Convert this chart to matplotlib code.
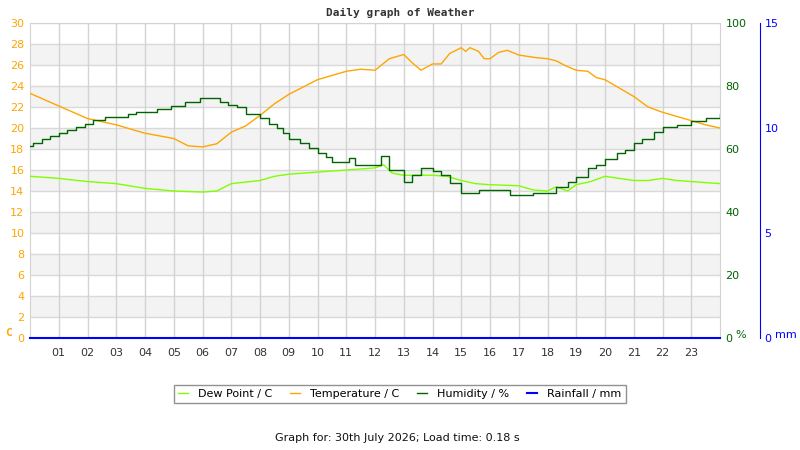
import matplotlib
matplotlib.use("Agg")
import matplotlib.pyplot as plt

# temperature (C)
temp_h = [0, 1, 2, 3, 4, 5, 5.5, 6, 6.5, 7, 7.5, 8, 8.5, 9, 10, 11, 11.5, 12, 12.5, 13,
          13.3, 13.6, 14, 14.3, 14.6, 15, 15.15, 15.3, 15.6, 15.8, 16, 16.3, 16.6, 17,
          17.6, 18, 18.3, 18.65, 19, 19.4, 19.7, 20, 20.5, 21, 21.5, 22, 22.5, 23, 23.5, 24]
temp_c = [23.3, 22.1, 20.9, 20.3, 19.5, 19.0, 18.3, 18.2, 18.5, 19.6, 20.2, 21.2, 22.3, 23.2,
          24.6, 25.4, 25.6, 25.5, 26.6, 27.0, 26.2, 25.5, 26.1, 26.1, 27.1, 27.65, 27.3, 27.65,
          27.3, 26.6, 26.6, 27.2, 27.4, 26.95, 26.7, 26.6, 26.4, 25.9, 25.5, 25.4, 24.8, 24.6,
          23.8, 23.0, 22.0, 21.5, 21.1, 20.7, 20.3, 20.0]

# dew point (C)
dew_h = [0, 1, 2, 3, 4, 5, 6, 6.5, 7, 8, 8.5, 9, 10, 11, 12, 12.3, 12.6, 13, 14, 14.5, 15,
         15.5, 16, 17, 17.5, 18, 18.3, 18.7, 19, 19.5, 20, 20.5, 21, 21.5, 22, 22.5, 23, 24]
dew_c = [15.4, 15.2, 14.9, 14.7, 14.25, 14.0, 13.9, 14.0, 14.7, 15.0, 15.4, 15.6, 15.8, 16.0,
         16.2, 16.5, 15.7, 15.5, 15.5, 15.4, 15.0, 14.7, 14.6, 14.5, 14.1, 14.0, 14.4, 14.0,
         14.6, 14.9, 15.4, 15.2, 15.0, 15.0, 15.2, 15.0, 14.9, 14.7]

# humidity (%), stepped
hum_h = [0, 0.1, 0.4, 0.7, 1, 1.3, 1.6, 1.9, 2.2, 2.6, 3.4, 3.7, 4.4, 4.9, 5.4, 5.9, 6.6, 6.9,
         7.2, 7.5, 8, 8.3, 8.6, 8.8, 9, 9.4, 9.7, 10, 10.3, 10.5, 11, 11.1, 11.3, 12, 12.2,
         12.5, 13, 13.3, 13.6, 14, 14.3, 14.6, 15, 15.6, 16, 16.7, 17.5, 18.3, 18.7, 19, 19.4,
         19.7, 20, 20.4, 20.7, 21, 21.3, 21.7, 22, 22.5, 23, 23.5, 24]
hum_p = [61.0, 61.8, 63.1, 64.1, 65.0, 66.0, 66.9, 67.9, 69.2, 70.1, 71.1, 71.8, 72.6, 73.7,
         74.8, 76.1, 74.8, 74.0, 73.2, 71.1, 69.7, 67.9, 66.6, 65.2, 63.1, 61.8, 60.2, 58.8,
         57.6, 56.0, 56.0, 57.0, 54.9, 54.9, 57.8, 53.3, 49.6, 51.7, 53.9, 52.9, 51.7, 49.1,
         45.9, 47.0, 47.0, 45.4, 46.1, 47.8, 49.6, 51.0, 53.9, 54.9, 56.7, 58.8, 59.7, 61.8,
         63.1, 65.5, 66.9, 67.6, 69.0, 69.7, 71.1]

# rainfall (mm)
rain_h = [0, 24]
rain_mm = [0, 0]

hour_labels = ["%02d" % h for h in range(1, 24)]

fig = plt.figure(figsize=(8, 4.5), dpi=100)
ax = fig.add_axes([30 / 800, 1 - 338 / 450, 690 / 800, 315 / 450])

# alternating bands and grid
for lo in range(2, 30, 4):
    ax.axhspan(lo, lo + 2, color="#f3f3f3", zorder=0, lw=0)
for y in range(2, 31, 2):
    ax.axhline(y, color="#d9d9d9", lw=1, zorder=1)
for h in range(1, 24):
    ax.axvline(h, color="#d3d3d3", lw=1, zorder=1)

ax.set_xlim(0, 24)
ax.set_ylim(0, 30)
ax.set_yticks(range(0, 31, 2))
ax.tick_params(axis="y", colors="#ffa500", length=0, labelsize=8, pad=4)
ax.set_xticks(range(1, 24))
ax.set_xticklabels(hour_labels)
ax.tick_params(axis="x", colors="#333333", length=0, labelsize=8, pad=7)
for s in ["left", "right", "top"]:
    ax.spines[s].set_color("#d3d3d3")
ax.spines["bottom"].set_visible(False)

l_dew, = ax.plot(dew_h, dew_c, color="#7fff00", lw=1, zorder=3)
l_temp, = ax.plot(temp_h, temp_c, color="#ffa500", lw=1, zorder=3)

ax2 = ax.twinx()
ax2.set_ylim(0, 100)
ax2.set_yticks(range(0, 101, 20))
ax2.tick_params(axis="y", colors="#006400", length=0, labelsize=8, pad=4)
for s in ax2.spines.values():
    s.set_visible(False)
l_hum, = ax2.plot(hum_h, hum_p, color="#006400", lw=1, drawstyle="steps-post", zorder=4)

ax3 = ax.twinx()
ax3.set_ylim(0, 15)
ax3.set_yticks([0, 5, 10, 15])
ax3.spines["right"].set_position(("outward", 29))
ax3.spines["right"].set_color("#0000ff")
for s in ["left", "top", "bottom"]:
    ax3.spines[s].set_visible(False)
ax3.tick_params(axis="y", colors="#0000ff", length=0, labelsize=8, pad=3)
l_rain, = ax3.plot(rain_h, rain_mm, color="#0000ff", lw=1.5, zorder=5, clip_on=False)

fig.text(5 / 800, 1 - 333 / 450, "C", color="#ffa500", fontsize=8, fontweight="bold",
         family="DejaVu Sans Mono", va="center")
fig.text(735 / 800, 1 - 335 / 450, "%", color="#006400", fontsize=8, va="center")
fig.text(775 / 800, 1 - 335 / 450, "mm", color="#0000ff", fontsize=8, va="center")

fig.text(0.5, 1 - 13 / 450, "Daily graph of Weather", ha="center", va="center",
         fontsize=8, fontweight="bold", family="DejaVu Sans Mono", color="#333333")

fig.legend([l_dew, l_temp, l_hum, l_rain],
           ["Dew Point / C", "Temperature / C", "Humidity / %", "Rainfall / mm"],
           loc="center", bbox_to_anchor=(400 / 800, 1 - 394 / 450), ncol=4, fontsize=8,
           frameon=True, fancybox=False, edgecolor="#777777", handlelength=0.9,
           columnspacing=1.6, handletextpad=0.9, borderpad=0.4, borderaxespad=0)

fig.text(397 / 800, 1 - 438 / 450, "Graph for: 30th July 2026; Load time: 0.18 s",
         ha="center", va="center", fontsize=8, color="#111111")

fig.savefig("out.png", dpi=100)
